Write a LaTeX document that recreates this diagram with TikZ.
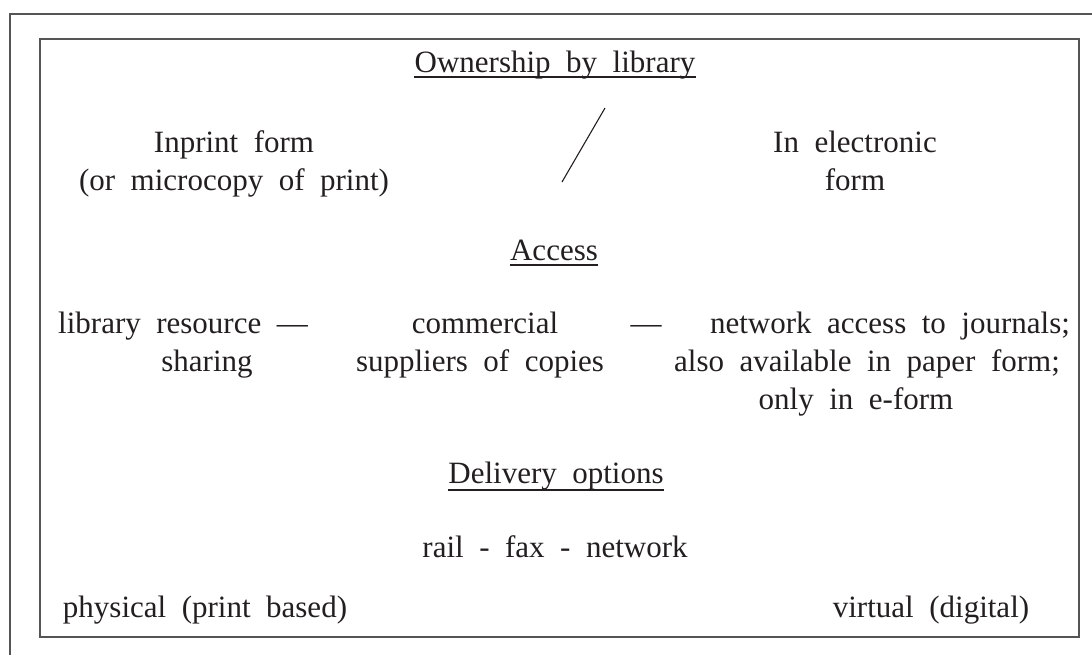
\documentclass[tikz,border=0pt]{standalone}
\usepackage{fontspec}
\setmainfont{Liberation Serif}
\definecolor{ink}{HTML}{231F20}
\definecolor{frame}{HTML}{555555}
\newcommand{\diagfont}{\fontsize{31}{37}\selectfont\spaceskip=15.5pt plus 3pt minus 3pt\relax}
\begin{document}
\begin{tikzpicture}[x=1pt,y=-1pt,
  txt/.style={anchor=base,inner sep=0pt,text=ink,font=\diagfont},
  uline/.style={draw=ink,line width=1.3pt},
  boxline/.style={draw=frame,line width=2pt},
  slashline/.style={draw=ink,line width=1.1pt}]
\useasboundingbox (0,0) rectangle (1092,654);
\clip (0,0) rectangle (1092,654);
% outer (cropped) frame
\draw[boxline] (10,670) -- (10,14) -- (1110,14);
% inner frame
\draw[boxline] (40,39) rectangle (1079,637);
% Ownership
\node[txt] (own) at (555,72) {Ownership by library};
\draw[uline] ([yshift=-5pt]own.base west) -- ([yshift=-5pt]own.base east);
\node[txt] (inp1) at (234,152) {Inprint form};
\node[txt] (inp2) at (234,190) {(or microcopy of print)};
\node[txt] (ele1) at (855,152) {In electronic};
\node[txt] (ele2) at (855,190) {form};
\coordinate (sl1) at (605,108);
\coordinate (sl2) at (562,182);
\draw[slashline] (sl1) -- (sl2);
% Access
\node[txt] (acc) at (554,260) {Access};
\draw[uline] ([yshift=-5pt]acc.base west) -- ([yshift=-5pt]acc.base east);
\node[txt] (lib1) at (183,333) {library resource —};
\node[txt] (lib2) at (207,371) {sharing};
\node[txt] (com1) at (485,333) {commercial};
\node[txt] (com2) at (480,371) {suppliers of copies};
\node[txt] (dsh) at (646,333) {—};
\node[txt] (net1) at (890,333) {network access to journals;};
\node[txt] (net2) at (867,371) {also available in paper form;};
\node[txt] (net3) at (856,409) {only in e-form};
% Delivery
\node[txt] (del) at (556,483) {Delivery options};
\draw[uline] ([yshift=-7pt]del.base west) -- ([yshift=-7pt]del.base east);
\node[txt] (rail) at (555,557) {rail - fax - network};
\node[txt] (phys) at (205,617) {physical (print based)};
\node[txt] (virt) at (931,617) {virtual (digital)};
\end{tikzpicture}
\end{document}
